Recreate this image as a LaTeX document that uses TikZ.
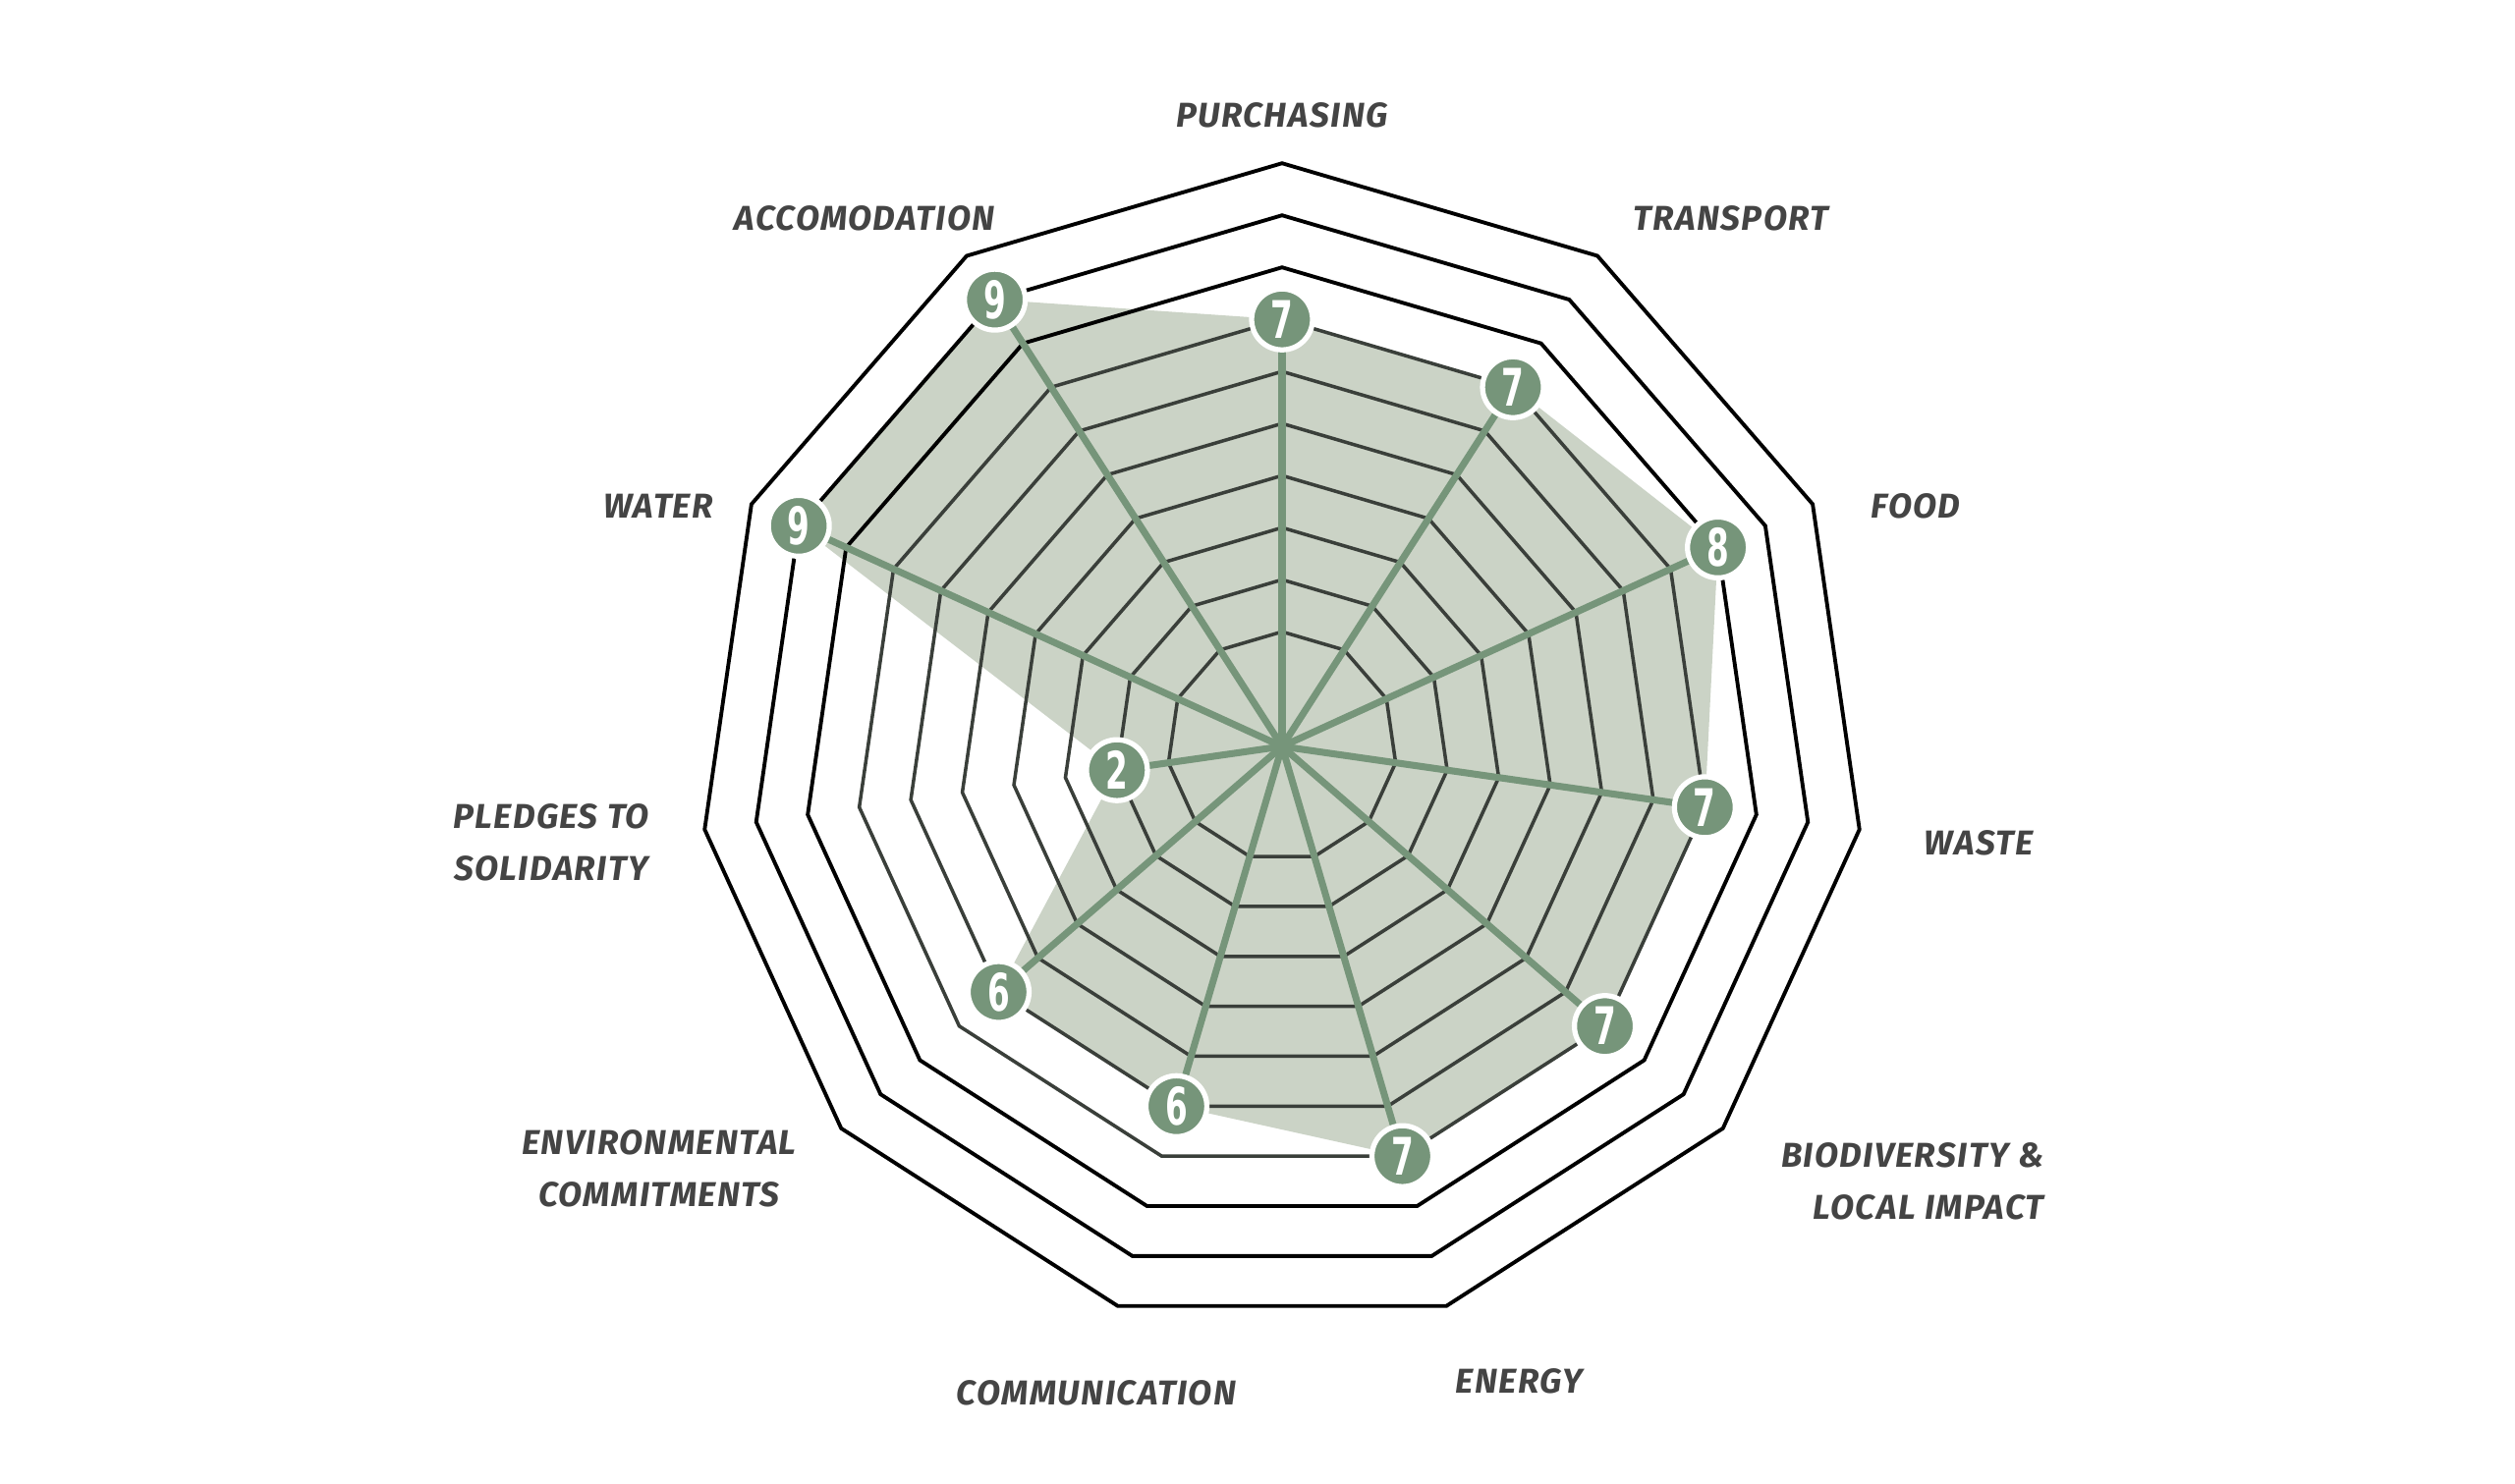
\documentclass[tikz,border=0pt]{standalone}
\usepackage{fontspec}
\setmainfont{Fira Sans}[LetterSpace=4]
\newfontfamily\numfont[FakeStretch=0.62]{DejaVu Sans}
\definecolor{sage}{HTML}{76957A}
\definecolor{sagefill}{HTML}{CBD3C6}
\definecolor{gridc}{HTML}{3A3F3A}
\definecolor{labc}{HTML}{444444}
\tikzset{
  val/.style={circle,fill=sage,draw=white,line width=1.5pt,minimum size=6.2mm,inner sep=0pt,text=white,font=\numfont\bfseries\fontsize{15}{15}\selectfont},
  lab/.style={text=labc,font=\bfseries\itshape\fontsize{10}{15}\selectfont,align=center},
  ring/.style={draw=gridc,line width=1pt},
  outer/.style={draw=black,line width=1.1pt},
  spoke/.style={draw=sage,line width=2pt}
}
\begin{document}
\begin{tikzpicture}[x=0.1mm,y=-0.1mm,line join=miter]
\useasboundingbox[fill=white] (0,0) rectangle (2560,1510);
\begin{scope}[shift={(1305,760)}]
\coordinate (c) at (0,0);
\foreach \v [count=\i from 0] in {7,7,8,7,7,7,6,6,2,9,9}{
  \coordinate (p\i) at ({-90+\i*360/11}:{63.8+53*\v});
}
\fill[sagefill] (p0) \foreach \i in {1,...,10}{ -- (p\i)} -- cycle;
\foreach \k in {1,...,7}{
  \draw[ring] (-90:{63.8+53*\k}) \foreach \i in {1,...,10}{ -- ({-90+\i*360/11}:{63.8+53*\k})} -- cycle;
}
\foreach \k in {8,9,10}{
  \draw[outer] (-90:{63.8+53*\k}) \foreach \i in {1,...,10}{ -- ({-90+\i*360/11}:{63.8+53*\k})} -- cycle;
}
\foreach \v [count=\i from 0] in {7,7,8,7,7,7,6,6,2,9,9}{
  \draw[spoke] (c) -- (p\i);
}
\foreach \v [count=\i from 0] in {7,7,8,7,7,7,6,6,2,9,9}{
  \node[val] (n\i) at (p\i) {\v};
}
\end{scope}
\node[lab] (l0) at (1305,117) {PURCHASING};
\node[lab] (l1) at (1762,222) {TRANSPORT};
\node[lab] (l2) at (1950,515) {FOOD};
\node[lab] (l3) at (2014,858) {WASTE};
\node[lab,align=right,anchor=east] (l4) at (2093,1203) {BIODIVERSITY \&\\LOCAL IMPACT};
\node[lab] (l5) at (1546,1406) {ENERGY};
\node[lab] (l6) at (1116,1418) {COMMUNICATION};
\node[lab] (l7) at (671,1190) {ENVIRONMENTAL\\COMMITMENTS};
\node[lab] (l8) at (561,858) {PLEDGES TO\\SOLIDARITY};
\node[lab] (l9) at (670,515) {WATER};
\node[lab] (l10) at (880,222) {ACCOMODATION};
\end{tikzpicture}
\end{document}
